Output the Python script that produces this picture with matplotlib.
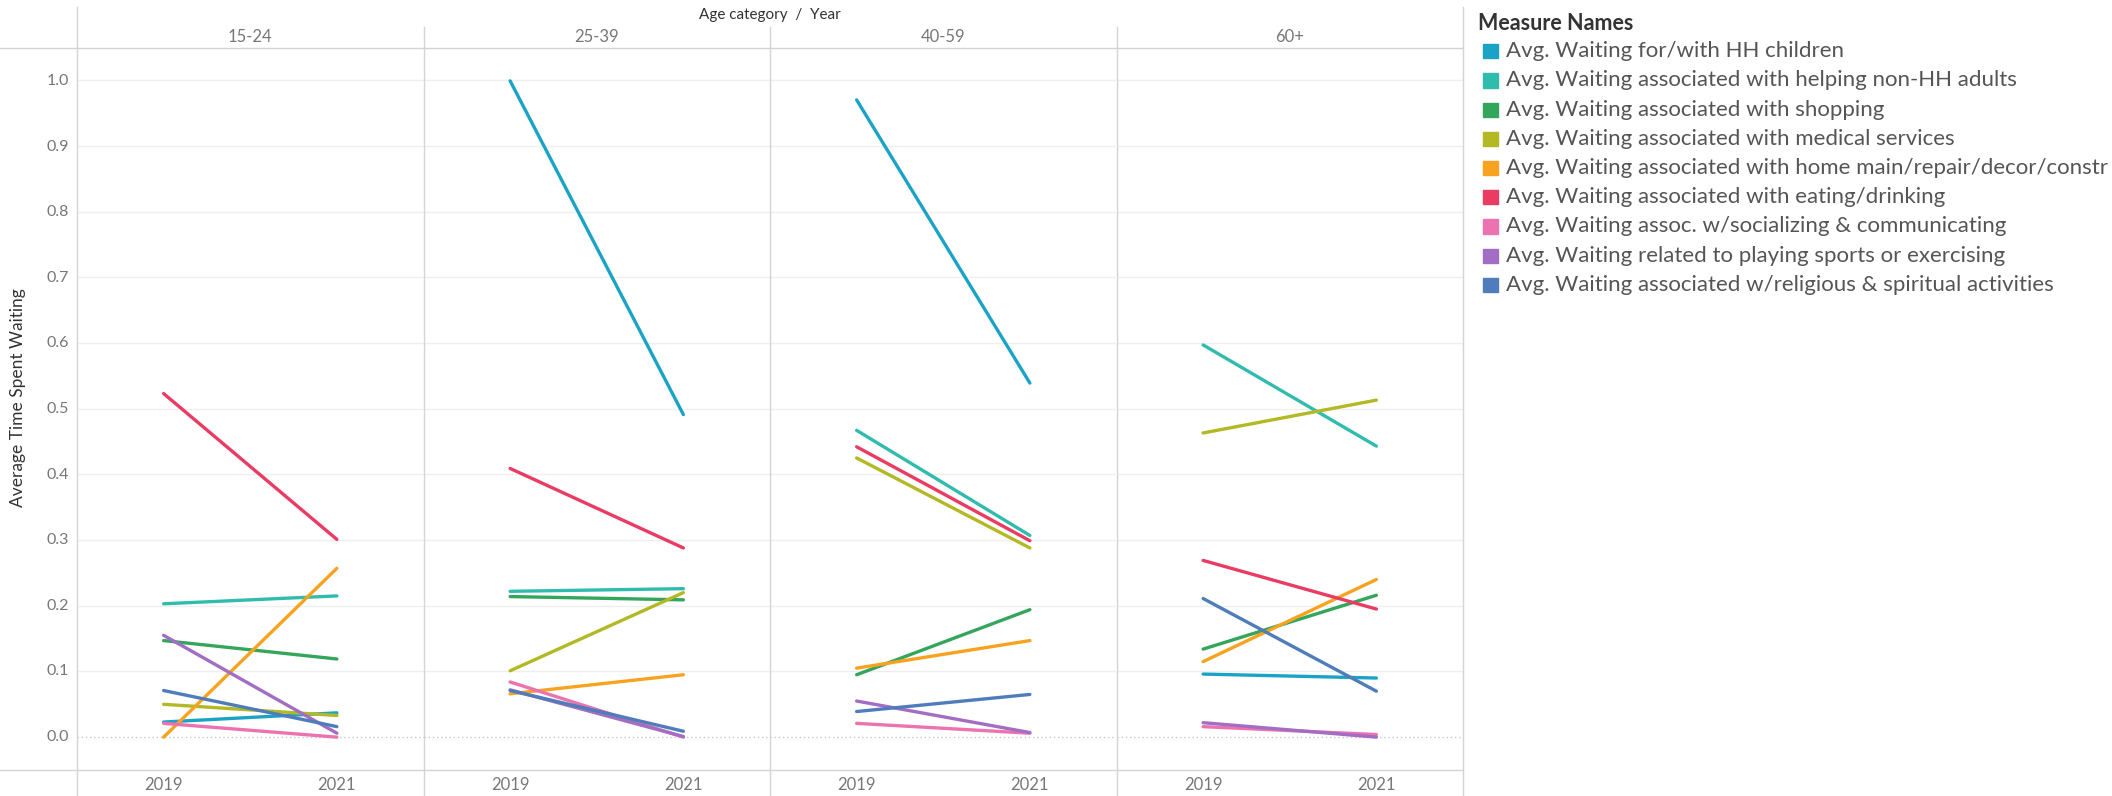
import matplotlib
matplotlib.use("Agg")
import matplotlib.pyplot as plt
from matplotlib.lines import Line2D
from matplotlib.patches import Rectangle

W, H = 2112, 796

age_groups = ["15-24", "25-39", "40-59", "60+"]
years = ["2019", "2021"]

measures = [
    "Avg. Waiting for/with HH children",
    "Avg. Waiting associated with helping non-HH adults",
    "Avg. Waiting associated with shopping",
    "Avg. Waiting associated with medical services",
    "Avg. Waiting associated with home main/repair/decor/constr",
    "Avg. Waiting associated with eating/drinking",
    "Avg. Waiting assoc. w/socializing & communicating",
    "Avg. Waiting related to playing sports or exercising",
    "Avg. Waiting associated w/religious & spiritual activities",
]

colors = ["#1ba3c6", "#30bcad", "#33a65c", "#b2b925", "#f7a31f",
          "#ea3b63", "#ec72b0", "#a26dc2", "#4f7cba"]

# values per age group: [2019, 2021] for each measure (legend order)
children = [[0.023, 0.037], [0.999, 0.491], [0.970, 0.539], [0.096, 0.090]]
helping = [[0.203, 0.215], [0.222, 0.226], [0.467, 0.307], [0.597, 0.443]]
shopping = [[0.147, 0.119], [0.214, 0.209], [0.095, 0.194], [0.134, 0.216]]
medical = [[0.050, 0.033], [0.101, 0.220], [0.425, 0.288], [0.463, 0.513]]
home = [[0.000, 0.257], [0.066, 0.095], [0.105, 0.147], [0.115, 0.240]]
eating = [[0.523, 0.301], [0.409, 0.288], [0.442, 0.299], [0.269, 0.195]]
socializing = [[0.021, 0.000], [0.084, 0.000], [0.021, 0.006], [0.016, 0.004]]
sports = [[0.155, 0.006], [0.072, 0.001], [0.055, 0.007], [0.022, 0.000]]
religious = [[0.071, 0.016], [0.071, 0.009], [0.039, 0.065], [0.211, 0.070]]

series = [children, helping, shopping, medical, home,
          eating, socializing, sports, religious]

plt.rcParams["font.family"] = ["Lato", "DejaVu Sans"]

fig = plt.figure(figsize=(W / 100, H / 100), dpi=100)
fig.patch.set_facecolor("white")


def fx(px):
    return px / W


def fy(py):
    return 1 - py / H


line_col = "#d4d4d4"
left, right, top, bottom = 77, 1463, 48, 770
pw = (right - left) / 4

for i, grp in enumerate(age_groups):
    x0 = left + i * pw
    ax = fig.add_axes([fx(x0), fy(bottom), fx(pw), (bottom - top) / H])
    ax.set_xlim(-0.5, 1.5)
    ax.set_ylim(-0.05, 1.049)
    for s in ax.spines.values():
        s.set_visible(False)
    ax.set_facecolor("none")
    for k in range(1, 11):
        ax.axhline(k / 10, color="#efefef", lw=1, zorder=0)
    ax.axhline(0, color="#c8c8c8", lw=1, ls=(0, (1, 2)), zorder=0)
    for vals, c in zip(series, colors):
        ax.plot([0, 1], vals[i], color=c, lw=2.4, solid_capstyle="round")
    ax.set_xticks([])
    ax.set_yticks([])
    # year labels
    for j, yr in enumerate(years):
        fig.text(fx(x0 + pw * (0.25 + 0.5 * j)), fy(785), yr, ha="center",
                 va="center", fontsize=12, color="#777777")
    fig.text(fx(x0 + pw / 2), fy(37), grp, ha="center", va="center",
             fontsize=12, color="#777777")

# y tick labels
for k in range(0, 11):
    v = k / 10
    ypix = 737 - v * 656
    fig.text(fx(69), fy(ypix), f"{v:.1f}", ha="right", va="center",
             fontsize=11.5, color="#777777")

# frame lines
def fline(x1, y1, x2, y2, **kw):
    fig.add_artist(Line2D([fx(x1), fx(x2)], [fy(y1), fy(y2)],
                          color=line_col, lw=1, **kw))


fline(0, top, right, top)
fline(0, bottom, right, bottom)
fline(left, 7, left, H)
fline(right, 7, right, H)
for i in range(1, 4):
    xd = left + i * pw
    fline(xd, 27, xd, H)

fig.text(fx((left + right) / 2), fy(15), "Age category  /  Year", ha="center",
         va="center", fontsize=11, color="#333333")
fig.text(fx(18), fy(398), "Average Time Spent Waiting", rotation=90,
         ha="center", va="center", fontsize=12.5, color="#333333")

# legend
fig.text(fx(1478), fy(24), "Measure Names", ha="left", va="center",
         fontsize=15.5, fontweight="bold", color="#333333")
for i, (m, c) in enumerate(zip(measures, colors)):
    yc = 51.3 + i * 29.2
    fig.add_artist(Rectangle((fx(1483), fy(yc + 7)), fx(15), 14 / H,
                             color=c, transform=fig.transFigure))
    fig.text(fx(1506), fy(yc), m, ha="left", va="center", fontsize=16,
             color="#555555")

fig.savefig("out.png", dpi=100, facecolor="white")
